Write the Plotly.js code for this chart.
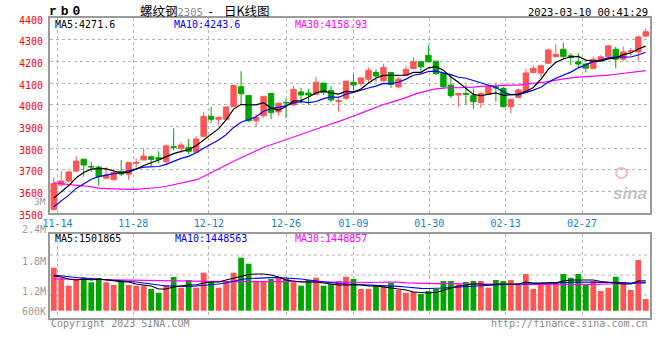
<!DOCTYPE html>
<html><head><meta charset="utf-8">
<script src="https://cdn.plot.ly/plotly-3.0.1.min.js"></script>
<style>html,body{margin:0;padding:0;background:#fff}#chart{width:660px;height:360px}</style>
</head><body><div id="chart"></div>
<script>
// ---- data ----
const openP  = [3518,3631,3649,3695,3750,3716,3713,3662,3655,3694, 3680,3731,3746,3761,3757,3738,3808,3800,3805,3782,
                3855,3948,3934,3934,3992,4084,4044,3927,3950,4053, 3968,4012,4000,4060,4055,4049,4101,4066,4016,4031,
                4105,4099,4119,4150,4112,4150,4084,4137,4168,4199, 4229,4202,4145,4092,4046,4053,4043,4011,4049,4084,
                4076,3992,4035,4061,4150,4147,4193,4224,4257,4227, 4199,4189,4169,4208,4222,4257,4211,4248,4245,4318];
const highP  = [3664,3695,3695,3764,3750,3738,3720,3713,3704,3746, 3735,3754,3800,3766,3787,3818,3892,3827,3843,3855,
                3968,3992,3943,3991,4090,4156,4044,3957,4040,4053, 4008,4029,4088,4079,4073,4130,4101,4087,4031,4110,
                4142,4125,4173,4165,4191,4150,4130,4180,4221,4205, 4275,4202,4150,4140,4053,4092,4076,4061,4092,4099,
                4084,4026,4076,4168,4181,4181,4260,4280,4288,4239, 4239,4193,4224,4230,4277,4269,4269,4262,4321,4352];
const lowP   = [3512,3623,3643,3689,3669,3692,3627,3662,3652,3673, 3655,3710,3746,3715,3731,3723,3790,3779,3774,3782,
                3855,3916,3907,3934,3992,4000,3922,3901,3942,3934, 3950,3940,3997,4008,4000,4049,4046,4012,3969,4023,
                4069,4084,4107,4107,4108,4079,4076,4135,4165,4156, 4199,4137,4073,4031,3992,4000,3982,3985,4049,4015,
                3988,3962,4031,4061,4143,4127,4189,4219,4211,4184, 4169,4150,4163,4208,4219,4169,4204,4227,4204,4311];
const closeP = [3638,3649,3691,3741,3723,3714,3669,3677,3689,3681, 3735,3734,3764,3749,3749,3811,3805,3815,3786,3843,
                3947,3934,3943,3991,4090,4052,3927,3942,4040,3965, 4008,4010,4072,4046,4046,4105,4058,4023,4019,4110,
                4092,4125,4160,4134,4173,4095,4119,4165,4199,4176, 4199,4145,4084,4043,4053,4049,4015,4053,4084,4079,
                3992,4026,4069,4148,4169,4181,4254,4234,4224,4219, 4189,4170,4211,4222,4273,4211,4245,4250,4314,4338];
const ma5  = [3570,3600,3628,3664,3688.4,3703.6,3707.6,3704.8,3694.4,3686.0, 3690.2,3703.2,3720.6,3732.6,3746.2,3761.4,3775.6,3785.8,3793.2,3812.0,
              3839.2,3865.0,3890.6,3931.6,3981.0,4002.0,4000.6,4000.4,4010.2,3985.2, 3976.4,3993.0,4019.0,4020.2,4036.4,4055.8,4065.4,4055.6,4050.2,4063.0,
              4060.4,4073.8,4101.2,4124.2,4136.8,4137.4,4136.2,4137.2,4150.2,4150.8, 4171.6,4176.8,4160.6,4129.4,4104.8,4074.8,4048.8,4042.6,4050.8,4056.0,
              4044.6,4046.8,4050.0,4062.8,4080.8,4118.6,4164.2,4197.2,4212.4,4222.4, 4224.0,4207.2,4202.6,4202.2,4213.0,4217.4,4232.4,4240.2,4258.6,4271.6];
const ma10 = [3530,3555,3584,3615,3638,3657,3669,3677,3683,3687.2, 3696.9,3705.4,3712.7,3713.5,3716.1,3725.8,3739.4,3753.2,3762.9,3779.1,
              3800.3,3820.3,3838.2,3862.4,3896.5,3920.6,3932.8,3945.5,3970.9,3983.1, 3989.2,3996.8,4009.7,4015.2,4010.8,4016.1,4029.2,4037.3,4035.2,4049.7,
              4058.1,4069.6,4078.4,4087.2,4099.9,4098.9,4105.0,4119.2,4137.2,4143.8, 4154.5,4156.5,4148.9,4139.8,4127.8,4123.2,4112.8,4101.6,4090.1,4080.4,
              4059.7,4047.8,4046.3,4056.8,4068.4,4081.6,4105.5,4123.6,4137.6,4151.6, 4171.3,4185.7,4199.9,4207.3,4217.7,4220.7,4219.8,4221.4,4230.4,4243.6];
const ma30 = [3640,3638,3632,3630,3627,3622,3616,3614,3612,3611, 3610,3610,3612,3615,3619,3625,3632,3638,3645,3654,
              3670,3688,3706,3723,3740,3756,3773,3789,3805,3816.5, 3828.8,3840.8,3853.5,3863.7,3874.5,3887.5,3900.5,3912.0,3923.0,3937.3,
              3949.2,3962.2,3975.4,3988.3,4002.4,4011.9,4022.3,4034.0,4047.8,4058.9, 4067.3,4074.3,4079.0,4080.7,4079.5,4079.4,4082.3,4086.0,4087.5,4091.3,
              4090.8,4091.3,4091.2,4094.6,4098.7,4101.2,4107.8,4114.8,4121.6,4125.3, 4128.5,4130.0,4131.7,4134.6,4138.0,4141.8,4146.0,4148.9,4152.7,4158.93];
// volume in thousands of lots
const volumeK = [1903,1600,1358,1561,1600,1461,1582,1461,1379,1521, 1379,1358,1358,1258,1145,1379,1621,1297,1530,1297,
                 1751,1500,1297,1500,1751,2206,2024,1479,1479,1561, 1600,1561,1461,1358,1530,1600,1358,1409,1500,1630,
                 1561,1258,1258,1379,1348,1448,1227,1145,1176,1106, 1197,1258,1500,1500,1400,1470,1500,1500,1297,1530,
                 1500,1530,1379,1712,1258,1418,1418,1461,1712,1600, 1712,1409,1500,1197,1297,1630,1461,1227,2136,955];
const volMa5K  = [1651,1621,1560,1530,1560,1530,1560,1530,1500,1479, 1470,1409,1379,1348,1258,1258,1318,1348,1379,1379,
                  1439,1470,1470,1530,1591,1651,1697,1712,1712,1682, 1621,1530,1500,1470,1470,1470,1439,1409,1379,1379,
                  1379,1379,1348,1348,1318,1288,1258,1227,1167,1151, 1136,1151,1227,1288,1348,1379,1409,1409,1379,1409,
                  1409,1409,1409,1470,1439,1439,1448,1448,1500,1530, 1530,1530,1530,1485,1470,1439,1409,1409,1500,1502];
const volMa10K = [1682,1651,1621,1606,1591,1576,1560,1545,1530,1515, 1500,1470,1439,1409,1379,1348,1348,1339,1339,1348,
                  1364,1379,1409,1439,1500,1545,1576,1591,1600,1600, 1600,1591,1576,1560,1530,1500,1470,1439,1424,1409,
                  1400,1394,1379,1364,1348,1348,1339,1318,1288,1279, 1273,1273,1288,1303,1318,1333,1348,1364,1379,1379,
                  1394,1394,1400,1409,1409,1424,1439,1439,1454,1460, 1470,1470,1470,1470,1470,1460,1448,1439,1454,1449];
const volMa30K = [1561,1561,1558,1555,1552,1548,1545,1540,1535,1530, 1525,1520,1515,1510,1505,1500,1497,1494,1490,1487,
                  1484,1482,1480,1480,1481,1483,1486,1488,1490,1490, 1489,1487,1484,1480,1476,1472,1468,1464,1460,1458,
                  1456,1454,1452,1455,1470,1475,1465,1445,1435,1430, 1425,1420,1418,1416,1414,1410,1405,1398,1390,1385,
                  1382,1380,1379,1380,1380,1381,1382,1383,1385,1387, 1390,1393,1397,1400,1403,1408,1415,1425,1438,1449];
const dateTickText = ['11-14','11-28','12-12','12-26','01-09','01-30','02-13','02-27'];
const priceTicks = [3500,3600,3700,3800,3900,4000,4100,4200,4300,4400];
const volTickText = ['2.4M','1.8M','1.2M','600K'];
const maPriceText = ['MA5:4271.6','MA10:4243.6','MA30:4158.93'];
const maVolText = ['MA5:1501865','MA10:1448563','MA30:1448857'];

// ---- styling / layout ----
const W = 660, H = 360;
const px = x => x / W, py = y => 1 - y / H;
const MONO = 'DejaVu Sans Mono, monospace';
const RED = '#ff5555', GREEN = '#00a600', GRID = '#b4b4b4', FRAME = '#9a9a9a';
const idx = closeP.map((_, i) => i);
const dateTickPos = [0.5, 10.6, 20.7, 31, 40, 50.1, 60.3, 70.5];
const VOL_BASE = 600;
const barColors = closeP.map((c, i) => c >= openP[i] ? RED : GREEN);

const traces = [
  {type:'bar', x:idx, y:volumeK.map(v => v - VOL_BASE), base:VOL_BASE, width:0.77,
   marker:{color:barColors, line:{width:0}}, xaxis:'x2', yaxis:'y2', hoverinfo:'skip'},
  {type:'candlestick', x:idx, open:openP, high:highP, low:lowP, close:closeP,
   increasing:{line:{color:RED, width:1}, fillcolor:RED},
   decreasing:{line:{color:GREEN, width:1}, fillcolor:GREEN},
   whiskerwidth:0, xaxis:'x', yaxis:'y', hoverinfo:'skip'},
  {type:'scatter', mode:'lines', x:idx, y:ma30, line:{color:'#ff00ff', width:1.2}, xaxis:'x', yaxis:'y'},
  {type:'scatter', mode:'lines', x:idx, y:ma10, line:{color:'#0000ff', width:1.2}, xaxis:'x', yaxis:'y'},
  {type:'scatter', mode:'lines', x:idx, y:ma5, line:{color:'#000000', width:1.2}, xaxis:'x', yaxis:'y'},
  {type:'scatter', mode:'lines', x:idx, y:volMa30K, line:{color:'#ff00ff', width:1.2}, xaxis:'x2', yaxis:'y2'},
  {type:'scatter', mode:'lines', x:idx, y:volMa10K, line:{color:'#0000ff', width:1.2}, xaxis:'x2', yaxis:'y2'},
  {type:'scatter', mode:'lines', x:idx, y:volMa5K, line:{color:'#000000', width:1.2}, xaxis:'x2', yaxis:'y2'}
];

function ann(text, x, y, opts) {
  return Object.assign({text:text, x:px(x), y:py(y), xref:'paper', yref:'paper', showarrow:false,
    xanchor:'left', yanchor:'middle', borderpad:0,
    font:{family:MONO, size:10, color:'#000'}}, opts || {});
}

const annotations = [
  ann('<span style="letter-spacing:4px">rb0</span>', 48, 11, {font:{family:'Liberation Mono, monospace', size:13, color:'#000', weight:'bold'}}),
  ann('螺纹钢<span style="color:#8a8a8a;font-family:DejaVu Sans Mono;font-size:10.5px">2305</span>&nbsp;&nbsp;-&nbsp;&nbsp;&nbsp;&nbsp;日K线图', 139, 10,
      {font:{family:'Noto Sans CJK SC, sans-serif', size:12.5, color:'#000'}}),
  ann('2023-03-10 00:41:29', 649, 11.5, {xanchor:'right', font:{family:MONO, size:10.5, color:'#000'}}),
  ann(maPriceText[0], 54, 24.5, {font:{family:MONO, size:10, color:'#000'}}),
  ann(maPriceText[1], 173, 24.5, {font:{family:MONO, size:10, color:'#0000ff'}}),
  ann(maPriceText[2], 294, 24.5, {font:{family:MONO, size:10, color:'#ff00ff'}}),
  ann(maVolText[0], 54, 238.5, {font:{family:MONO, size:10, color:'#000'}}),
  ann(maVolText[1], 174, 238.5, {font:{family:MONO, size:10, color:'#0000ff'}}),
  ann(maVolText[2], 294, 238.5, {font:{family:MONO, size:10, color:'#ff00ff'}}),
  ann(volTickText[0], 46.5, 230, {xanchor:'right', font:{family:MONO, size:10, color:'#999'}}),
  ann(volTickText[1], 46.5, 261.5, {xanchor:'right', font:{family:MONO, size:10, color:'#999'}}),
  ann(volTickText[2], 46.5, 291, {xanchor:'right', font:{family:MONO, size:10, color:'#999'}}),
  ann(volTickText[3], 46.5, 311, {xanchor:'right', font:{family:MONO, size:10, color:'#999'}}),
  ann('3M', 46.5, 201, {xanchor:'right', font:{family:MONO, size:9.5, color:'#999'}}),
  ann('Copyright 2023 SINA.COM', 49.5, 323.5, {font:{family:MONO, size:10, color:'#888'}}),
  ann('http://finance.sina.com.cn', 649, 323.5, {xanchor:'right', font:{family:MONO, size:10, color:'#888'}}),
  ann('<i><b>sina</b></i>', 630, 193, {xanchor:'center', font:{family:'Liberation Sans, Arial, sans-serif', size:17, color:'rgba(185,185,185,0.85)'}})
];

const shapes = [255, 275, 295].map(y => ({type:'line', xref:'paper', yref:'paper', x0:px(50), x1:px(649.5),
  y0:py(y), y1:py(y), line:{color:GRID, width:1, dash:'dot'}, layer:'below'}));
shapes.push({type:'circle', xref:'paper', yref:'paper', x0:px(616), x1:px(627), y0:py(178), y1:py(168),
  line:{color:'rgba(240,170,170,0.8)', width:2}, layer:'above'});

const axisCommon = {showline:true, linecolor:FRAME, linewidth:2, mirror:true, zeroline:false,
  gridcolor:GRID, griddash:'dot', gridwidth:1, ticks:'', fixedrange:true};

const layout = {
  width:W, height:H, margin:{l:0, r:0, t:0, b:0}, paper_bgcolor:'#fff', plot_bgcolor:'#fff',
  showlegend:false, boxgap:0.28, boxgroupgap:0, hovermode:false,
  xaxis:Object.assign({}, axisCommon, {domain:[px(50), px(649.5)], range:[-0.5, 79.5], anchor:'y',
    tickmode:'array', tickvals:dateTickPos, ticktext:dateTickText, showgrid:true,
    tickfont:{family:MONO, size:10, color:'#1a7fc8'}, rangeslider:{visible:false}}),
  yaxis:Object.assign({}, axisCommon, {domain:[py(213.3), py(18.3)], range:[3500, 4400], anchor:'x',
    tickmode:'array', tickvals:priceTicks, showgrid:true, ticklabelstandoff:3, ticklabelshift:2,
    tickfont:{family:MONO, size:10, color:'#ff0000'}}),
  xaxis2:Object.assign({}, axisCommon, {domain:[px(50), px(649.5)], range:[-0.5, 79.5], anchor:'y2',
    tickmode:'array', tickvals:dateTickPos, showticklabels:false, showgrid:true, matches:'x'}),
  yaxis2:Object.assign({}, axisCommon, {domain:[py(318), py(234.3)], range:[379, 2915], anchor:'x2',
    showticklabels:false, showgrid:false}),
  annotations:annotations, shapes:shapes
};

Plotly.newPlot('chart', traces, layout, {staticPlot:true, displayModeBar:false});
</script></body></html>
